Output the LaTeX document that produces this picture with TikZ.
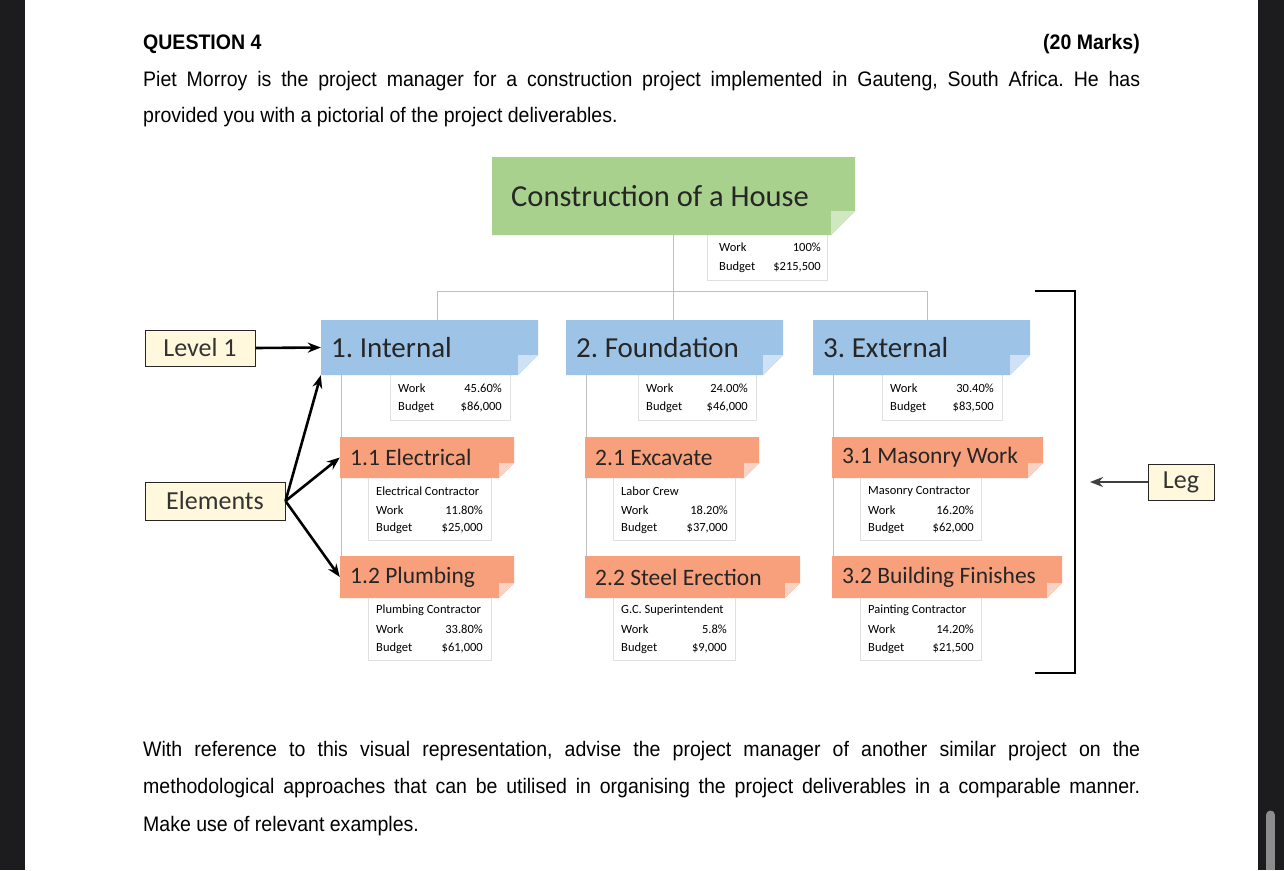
\documentclass[tikz,border=0pt]{standalone}
\usepackage{fontspec}
\usetikzlibrary{arrows.meta}
\setmainfont{Carlito}
\newfontfamily\qfont[FakeStretch=0.93]{Liberation Sans}
\frenchspacing
\definecolor{rootg}{HTML}{A9D18E}\definecolor{rootf}{HTML}{CFE8C2}
\definecolor{lblue}{HTML}{9DC3E6}\definecolor{lbluef}{HTML}{CFE2F5}
\definecolor{orng}{HTML}{F8A07C}\definecolor{orngf}{HTML}{F6D3C6}
\definecolor{cream}{HTML}{FFF8DC}\definecolor{dark}{HTML}{1C1C1E}
\tikzset{
 conn/.style={draw=black!25,line width=1pt},
 info/.style={draw=black!12,fill=white,line width=0.8pt},
 itext/.style={font=\fontsize{12.5}{13}\selectfont,inner sep=0},
 lbl/.style={draw=black!85,fill=cream,line width=1pt,font=\fontsize{26}{28}\selectfont,text=black!80,inner sep=0},
 arr/.style={-{Stealth[length=13pt,width=10pt]},line width=2.6pt},
 qtext/.style={font=\qfont\fontsize{21}{24}\selectfont,anchor=base west,inner sep=0},
}
\newcommand\foldbox[9]{%
 \fill[#6] (#2,#3) -- (#4,#3) -- (#4,{#5-#8}) -- ({#4-#8},#5) -- (#2,#5) -- cycle;
 \fill[#7] (#4,{#5-#8}) -- ({#4-#8},#5) -- ({#4-#8},{#5-#8}) -- cycle;
 \node[inner sep=0,minimum width={(#4-#2)*1pt},minimum height={(#5-#3)*1pt}] (#1) at ({(#2+#4)/2},{(#3+#5)/2}) {};
 \node[anchor=west,inner sep=0] (#1t) at ({#2+10},{(#3+#5)/2}) {#9};}
\newcommand\infobox[5]{\node[info,minimum width={(#4-#2)*1pt},minimum height={(#5-#3)*1pt},inner sep=0] (#1) at ({(#2+#4)/2},{(#3+#5)/2}) {};}
\newcommand\wrow[6]{\node[itext,anchor=west] (#1a) at (#2,#4) {#5};\node[itext,anchor=east] (#1b) at (#3,#4) {#6};}
\begin{document}
\begin{tikzpicture}[x=1pt,y=-1pt]
\useasboundingbox (0,0) rectangle (1284,870);
\fill[dark] (0,0) rectangle (25,870);
\fill[dark] (1258,0) rectangle (1284,870);
\fill[black!45] (1266,815) rectangle (1275,870);
\fill[black!45] (1270.5,815) circle (4.5);
\node[font=\qfont\bfseries\fontsize{21}{24}\selectfont,anchor=base west,inner sep=0] (q) at (143,49) {QUESTION 4};
\node[font=\qfont\bfseries\fontsize{21}{24}\selectfont,anchor=base east,inner sep=0] (m) at (1140,49) {(20 Marks)};
\node[qtext] (p1) at (143,86) {\makebox[997pt][s]{Piet Morroy is the project manager for a construction project implemented in Gauteng, South Africa. He has}};
\node[qtext] (p2) at (143,122) {provided you with a pictorial of the project deliverables.};
\node[qtext] (t1) at (143,756) {\makebox[997pt][s]{With reference to this visual representation, advise the project manager of another similar project on the}};
\node[qtext] (t2) at (143,793) {\makebox[997pt][s]{methodological approaches that can be utilised in organising the project deliverables in a comparable manner.}};
\node[qtext] (t3) at (143,831) {Make use of relevant examples.};
\draw[conn] (673,235) -- (673,320);
\draw[conn] (437,320) -- (437,291) -- (927,291) -- (927,320);
\draw[conn] (341,375) -- (341,556);
\draw[conn] (586,375) -- (586,556);
\draw[conn] (833,375) -- (833,556);
\infobox{ri}{707}{233}{827}{280}
\wrow{rw}{719}{821}{247}{Work}{100\%}
\wrow{rb}{719}{821}{267}{Budget}{\$215,500}
\foldbox{root}{492}{157}{855}{235}{rootg}{rootf}{24}{\hspace{9pt}\fontsize{30.5}{32}\selectfont\color{black!85}Construction of a House}
\infobox{i1}{390}{374}{510}{420}
\wrow{i1w}{398}{502}{388}{Work}{45.60\%}
\wrow{i1b}{398}{502}{407}{Budget}{\$86,000}
\infobox{i2}{638}{374}{756}{420}
\wrow{i2w}{646}{748}{388}{Work}{24.00\%}
\wrow{i2b}{646}{748}{407}{Budget}{\$46,000}
\infobox{i3}{882}{374}{1002}{420}
\wrow{i3w}{890}{994}{388}{Work}{30.40\%}
\wrow{i3b}{890}{994}{407}{Budget}{\$83,500}
\foldbox{l1}{321}{320}{538}{375}{lblue}{lbluef}{20}{\fontsize{29}{30}\selectfont\color{black!85}1. Internal}
\foldbox{l2}{566}{320}{783}{375}{lblue}{lbluef}{20}{\fontsize{29}{30}\selectfont\color{black!85}2. Foundation}
\foldbox{l3}{813}{320}{1030}{375}{lblue}{lbluef}{20}{\fontsize{29}{30}\selectfont\color{black!85}3. External}
\infobox{e11}{368}{477}{491}{540}
\node[itext,anchor=west] (e11c) at (376,491) {Electrical Contractor};
\wrow{e11w}{376}{483}{510}{Work}{11.80\%}
\wrow{e11b}{376}{483}{528}{Budget}{\$25,000}
\infobox{e12}{368}{597}{491}{660}
\node[itext,anchor=west] (e12c) at (376,610) {Plumbing Contractor};
\wrow{e12w}{376}{483}{629}{Work}{33.80\%}
\wrow{e12b}{376}{483}{648}{Budget}{\$61,000}
\infobox{e21}{613}{477}{735}{540}
\node[itext,anchor=west] (e21c) at (621,491) {Labor Crew};
\wrow{e21w}{621}{728}{510}{Work}{18.20\%}
\wrow{e21b}{621}{728}{528}{Budget}{\$37,000}
\infobox{e22}{613}{597}{735}{660}
\node[itext,anchor=west] (e22c) at (621,610) {G.C. Superintendent};
\wrow{e22w}{621}{727}{629}{Work}{5.8\%}
\wrow{e22b}{621}{727}{648}{Budget}{\$9,000}
\infobox{e31}{860}{477}{981}{540}
\node[itext,anchor=west] (e31c) at (868,491) {Masonry Contractor};
\wrow{e31w}{868}{974}{510}{Work}{16.20\%}
\wrow{e31b}{868}{974}{528}{Budget}{\$62,000}
\infobox{e32}{860}{597}{981}{660}
\node[itext,anchor=west] (e32c) at (868,610) {Painting Contractor};
\wrow{e32w}{868}{974}{629}{Work}{14.20\%}
\wrow{e32b}{868}{974}{648}{Budget}{\$21,500}
\foldbox{o11}{340}{437}{514}{478}{orng}{orngf}{15}{\fontsize{23.5}{25}\selectfont\color{black!85}1.1 Electrical}
\foldbox{o12}{340}{556}{514}{598}{orng}{orngf}{15}{\fontsize{23.5}{25}\selectfont\color{black!85}1.2 Plumbing}
\foldbox{o21}{585}{437}{759}{478}{orng}{orngf}{15}{\fontsize{23.5}{25}\selectfont\color{black!85}2.1 Excavate}
\foldbox{o22}{585}{556}{800}{598}{orng}{orngf}{15}{\fontsize{23.5}{25}\selectfont\color{black!85}2.2 Steel Erection}
\foldbox{o31}{832}{437}{1043}{478}{orng}{orngf}{15}{\fontsize{23.5}{25}\selectfont\color{black!85}3.1 Masonry Work}
\foldbox{o32}{832}{556}{1062}{598}{orng}{orngf}{15}{\fontsize{23.5}{25}\selectfont\color{black!85}3.2 Building Finishes}
\node[lbl,minimum width=110pt,minimum height=36pt] (lev) at (200,348) {Level 1};
\node[lbl,minimum width=140pt,minimum height=38pt] (el) at (215,501) {Elements};
\node[lbl,minimum width=66pt,minimum height=36pt] (leg) at (1181,482) {Leg};
\draw[arr] (lev.east) -- (l1.west);
\draw[arr] (el.east) -- (l1.south west);
\draw[arr] (el.east) -- (o11.west);
\draw[arr] (el.east) -- (o12.west);
\coordinate (bt) at (1035,291);
\coordinate (bb) at (1035,673);
\draw[line width=2.8pt] (bt) -- (1075,291) -- (1075,673) -- (bb);
\coordinate (lt) at (1090,482);
\draw[arr,black!75] (leg.west) -- (lt);
\end{tikzpicture}
\end{document}
